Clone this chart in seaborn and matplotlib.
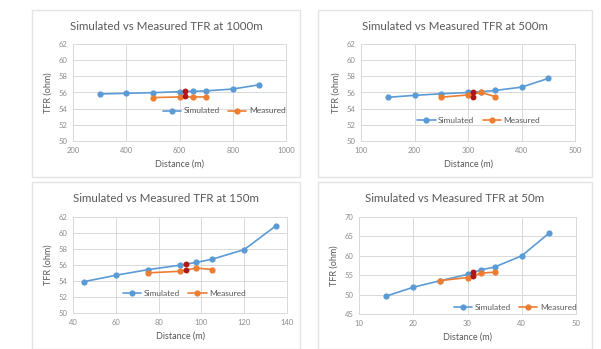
import pandas as pd
import matplotlib.pyplot as plt
from matplotlib.patches import Rectangle
import seaborn as sns

# --- Data ---
# 1000m
sim_1000_x = [300, 400, 500, 600, 650, 700, 800, 900]
sim_1000_y = [55.82, 55.9, 55.98, 56.1, 56.15, 56.2, 56.43, 56.96]
meas_1000_x = [500, 600, 650, 700]
meas_1000_y = [55.37, 55.45, 55.45, 55.45]
red_1000_x = [620, 620]
red_1000_y = [56.23, 55.53]

# 500m
sim_500_x = [150, 200, 250, 300, 325, 350, 400, 450]
sim_500_y = [55.4, 55.65, 55.84, 56.0, 56.1, 56.25, 56.66, 57.74]
meas_500_x = [250, 300, 325, 350]
meas_500_y = [55.42, 55.7, 56.0, 55.5]
red_500_x = [310, 310]
red_500_y = [56.1, 55.5]

# 150m
sim_150_x = [45, 60, 75, 90, 97.5, 105, 120, 135]
sim_150_y = [53.9, 54.7, 55.4, 55.96, 56.3, 56.7, 57.9, 60.9]
meas_150_x = [75, 90, 97.5, 105]
meas_150_y = [55.0, 55.2, 55.6, 55.42]
red_150_x = [93, 93]
red_150_y = [56.12, 55.34]

# 50m
sim_50_x = [15, 20, 25, 30, 32.5, 35, 40, 45]
sim_50_y = [49.6, 51.9, 53.6, 55.2, 56.4, 57.1, 60.0, 65.8]
meas_50_x = [25, 30, 32.5, 35]
meas_50_y = [53.6, 54.4, 55.5, 55.8]
red_50_x = [31, 31]
red_50_y = [55.7, 54.9]

titles = ["Simulated vs Measured TFR at 1000m", "Simulated vs Measured TFR at 500m",
          "Simulated vs Measured TFR at 150m", "Simulated vs Measured TFR at 50m"]

BLUE = "#5B9BD5"
ORANGE = "#ED7D31"
RED = "#B01818"
GRID = "#D9D9D9"
TXT = "#595959"
TICK = "#8C8C8C"

sns.set_theme(style="white")
plt.rcParams['font.family'] = ['Lato', 'DejaVu Sans']

fig = plt.figure(figsize=(6.01, 3.49), dpi=100)
W, H = 601, 349


def fx(px):
    return px / W


def fy(py):
    return 1 - py / H


# panel frames (pixels: left, top, right, bottom)
panels = [(32, 10, 300, 177), (318, 10, 592, 177), (32, 182, 300, 349), (318, 182, 592, 349)]
for l, t, r, b in panels:
    fig.patches.append(Rectangle((fx(l), fy(b)), fx(r - l), (b - t) / H, transform=fig.transFigure,
                                 fill=False, edgecolor="#E4E4E4", linewidth=1.0))

# axes boxes in pixels: left, top, right, bottom
boxes = [(73, 44, 286, 141), (361, 44, 575, 141), (73, 216.7, 287, 313), (359, 217, 576, 314)]

specs = [
    (sim_1000_x, sim_1000_y, meas_1000_x, meas_1000_y, red_1000_x, red_1000_y, (200, 1000), range(200, 1001, 200), (50, 62), range(50, 63, 2), (0.71, 0.31)),
    (sim_500_x, sim_500_y, meas_500_x, meas_500_y, red_500_x, red_500_y, (100, 500), range(100, 501, 100), (50, 62), range(50, 63, 2), (0.55, 0.21)),
    (sim_150_x, sim_150_y, meas_150_x, meas_150_y, red_150_x, red_150_y, (40, 140), range(40, 141, 20), (50, 62), range(50, 63, 2), (0.52, 0.20)),
    (sim_50_x, sim_50_y, meas_50_x, meas_50_y, red_50_x, red_50_y, (10, 50), range(10, 51, 10), (45, 70), range(45, 71, 5), (0.72, 0.07)),
]

for i, (spec, box, panel) in enumerate(zip(specs, boxes, panels)):
    sx, sy, mx, my, rx, ry, xlim, xt, ylim, yt, leg = spec
    l, t, r, b = box
    ax = fig.add_axes([fx(l), fy(b), fx(r - l), (b - t) / H])
    df = pd.concat([
        pd.DataFrame({'Distance': sx, 'TFR': sy, 'Series': 'Simulated'}),
        pd.DataFrame({'Distance': mx, 'TFR': my, 'Series': 'Measured'}),
    ])
    sns.lineplot(data=df, x='Distance', y='TFR', hue='Series', palette={'Simulated': BLUE, 'Measured': ORANGE},
                 marker='o', markersize=4.5, markeredgewidth=0, linewidth=1.2, ax=ax, zorder=3)
    sns.scatterplot(x=rx, y=ry, color=RED, s=18, linewidth=0, ax=ax, zorder=4)

    ax.set_xlim(*xlim)
    ax.set_ylim(*ylim)
    ax.set_xticks(list(xt))
    ax.set_yticks(list(yt))
    ax.grid(True, color=GRID, linewidth=0.7)
    ax.set_axisbelow(True)
    for s in ax.spines.values():
        s.set_color(GRID)
        s.set_linewidth(0.7)
    ax.tick_params(labelsize=5.5, colors=TICK, length=0, pad=4)
    ax.set_xlabel('Distance (m)', fontsize=6.5, color=TXT, labelpad=4)
    ax.set_ylabel('TFR (ohm)', fontsize=6.5, color=TXT, labelpad=4)

    handles, labels = ax.get_legend_handles_labels()
    ax.legend(handles[:2], labels[:2], ncol=2, frameon=False, loc='center', bbox_to_anchor=leg,
              fontsize=6, labelcolor=TXT, handlelength=2.2, handletextpad=0.3, columnspacing=1.0,
              borderaxespad=0)

    pl, pt, pr, pb = panel
    ty = 27 if i < 2 else 199
    fig.text(fx((pl + pr) / 2), fy(ty), titles[i], ha='center', va='center', fontsize=8.3, color=TXT)

fig.savefig('out.png', dpi=100, facecolor='white')
